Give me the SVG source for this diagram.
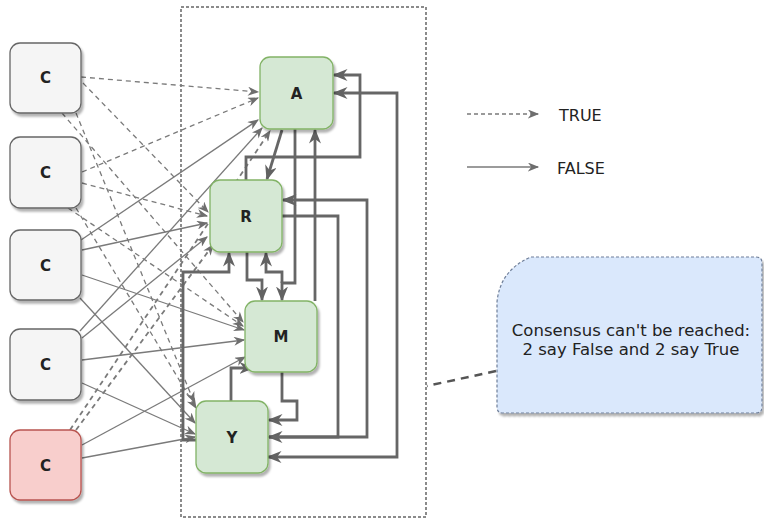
<svg xmlns="http://www.w3.org/2000/svg" width="764" height="520" viewBox="0 0 764 520">
<defs>
<style>
.node rect{stroke-width:1.3}
.cg{fill:#f5f5f5;stroke:#666}
.cr{fill:#f8cecc;stroke:#b85450}
.gr{fill:#d5e8d4;stroke:#82b366}
.lbl{font-family:"DejaVu Sans",Verdana,sans-serif;font-size:15px;font-weight:bold;fill:#222;text-anchor:middle;dominant-baseline:central}
.thin{fill:none;stroke:#7a7a7a;stroke-width:1.3;marker-end:url(#ah)}
.dash{stroke-dasharray:5 4}
.thick{fill:none;stroke:#666;stroke-width:2.8;stroke-linejoin:miter;marker-end:url(#ahb)}
.leg{font-family:"DejaVu Sans",Verdana,sans-serif;font-size:16px;fill:#222;dominant-baseline:central}
.note{font-family:"DejaVu Sans",Verdana,sans-serif;font-size:16.5px;fill:#222;text-anchor:middle}
</style>
<marker id="ah" viewBox="0 0 10 8" refX="9" refY="4" markerWidth="12" markerHeight="9" markerUnits="userSpaceOnUse" orient="auto-start-reverse">
<path d="M0,0 L10,4 L0,8 L3,4 Z" fill="#6e6e6e"/>
</marker>
<marker id="ahb" viewBox="0 0 10 8" refX="9" refY="4" markerWidth="15" markerHeight="12" markerUnits="userSpaceOnUse" orient="auto-start-reverse">
<path d="M0,0 L10,4 L0,8 L3,4 Z" fill="#626262"/>
</marker>
<filter id="sh" x="-20%" y="-20%" width="140%" height="140%">
<feDropShadow dx="2" dy="3" stdDeviation="1.2" flood-color="#000" flood-opacity="0.3"/>
</filter>
</defs>
<rect width="764" height="520" fill="#fff"/>

<g id="container">
<rect x="181" y="7" width="245" height="510" fill="none" stroke="#666" stroke-width="1.5" stroke-dasharray="3 2"/>
</g>

<g id="connectors">
<!-- C1 (TRUE) -->
<path class="thin dash" d="M81,77 L258,92"/>
<path class="thin dash" d="M83,83 L208,212"/>
<path class="thin dash" d="M62,113 L243,322"/>
<path class="thin dash" d="M76,113 L194,402"/>
<!-- C2 (TRUE) -->
<path class="thin dash" d="M82,172 L258,98"/>
<path class="thin dash" d="M82,183 L207,216"/>
<path class="thin dash" d="M68,208 L243,326"/>
<path class="thin dash" d="M76,208 L196,408"/>
<!-- C3 (FALSE) -->
<path class="thin" d="M81,240 L258,120"/>
<path class="thin" d="M82,250 L207,223"/>
<path class="thin" d="M82,275 L244,330"/>
<path class="thin" d="M80,298 L195,423"/>
<!-- C4 (FALSE) -->
<path class="thin" d="M80,331 L262,128"/>
<path class="thin" d="M82,338 L207,237"/>
<path class="thin" d="M82,360 L244,340"/>
<path class="thin" d="M82,383 L195,434"/>
<!-- C5 (faulty) -->
<path class="thin dash" d="M70,430 L270,131" style="stroke-width:1.8"/>
<path class="thin dash" d="M76,430 L213,245" style="stroke-width:1.8"/>
<path class="thin" d="M82,445 L245,357"/>
<path class="thin" d="M82,458 L195,437"/>

<!-- among A R M Y -->
<path class="thick" d="M282,130 L267,179"/>
<path class="thick" d="M246,180 L246,157 L360,157 L360,75 L334,75"/>
<path class="thick" d="M268,457 L397,457 L397,93 L334,93" style="marker-start:url(#ahb)"/>
<path class="thick" d="M295,129 L295,283 L282,283 L282,300"/>
<path class="thick" d="M315,301 L315,130"/>
<path class="thick" d="M282,216 L338,216 L338,437 L269,437"/>
<path class="thick" d="M269,437 L367,437 L367,200 L283,200"/>
<path class="thick" d="M282,372 L282,401 L297,401 L297,420 L269,420"/>
<path class="thick" d="M231,401 L231,368 L253,368"/>
<path class="thick" d="M247,252 L247,280 L262,280 L262,300"/>
<path class="thick" d="M282,283 L282,272 L266,272 L266,253"/>
<path class="thick" d="M196,440 L183,440 L183,272 L229,272 L229,253"/>

<!-- note link -->
<path d="M496,371 L427,386" fill="none" stroke="#555" stroke-width="2.5" stroke-dasharray="8 6"/>
</g>

<g id="C1" class="node"><rect class="cg" x="10" y="43" width="71" height="70" rx="10" filter="url(#sh)"/><text class="lbl" x="45.5" y="78">C</text></g>
<g id="C2" class="node"><rect class="cg" x="10" y="137" width="71" height="71" rx="10" filter="url(#sh)"/><text class="lbl" x="45.5" y="172.5">C</text></g>
<g id="C3" class="node"><rect class="cg" x="10" y="230" width="71" height="70" rx="10" filter="url(#sh)"/><text class="lbl" x="45.5" y="266">C</text></g>
<g id="C4" class="node"><rect class="cg" x="10" y="329" width="71" height="71" rx="10" filter="url(#sh)"/><text class="lbl" x="45.5" y="365">C</text></g>
<g id="C5" class="node"><rect class="cr" x="10" y="430" width="71" height="70" rx="10" filter="url(#sh)"/><text class="lbl" x="45.5" y="466">C</text></g>

<g id="A" class="node"><rect class="gr" x="260" y="57" width="73" height="72" rx="10" filter="url(#sh)"/><text class="lbl" x="296.5" y="94">A</text></g>
<g id="R" class="node"><rect class="gr" x="210" y="180" width="72" height="72" rx="10" filter="url(#sh)"/><text class="lbl" x="246" y="217">R</text></g>
<g id="M" class="node"><rect class="gr" x="245" y="301" width="72" height="71" rx="10" filter="url(#sh)"/><text class="lbl" x="281" y="337">M</text></g>
<g id="Y" class="node"><rect class="gr" x="196" y="401" width="72" height="72" rx="10" filter="url(#sh)"/><text class="lbl" x="232" y="438">Y</text></g>

<g id="legend">
<path class="thin dash" d="M467,114 L538,114" style="stroke-dasharray:4 3"/>
<text class="leg" x="559" y="115">TRUE</text>
<path class="thin" d="M467,167 L538,167"/>
<text class="leg" x="557" y="168">FALSE</text>
</g>

<g id="note">
<path d="M531,257 L756,257 Q762,257 762,263 L762,407 Q762,413 756,413 L503,413 Q497,413 497,407 L497,302 Q500,270 531,257 Z" fill="#dae8fc" stroke="#6f7f99" stroke-width="1.2" stroke-dasharray="3 2" filter="url(#sh)"/>
<text class="note" x="631" y="336">Consensus can't be reached:</text>
<text class="note" x="631" y="355">2 say False and 2 say True</text>
</g>
</svg>
